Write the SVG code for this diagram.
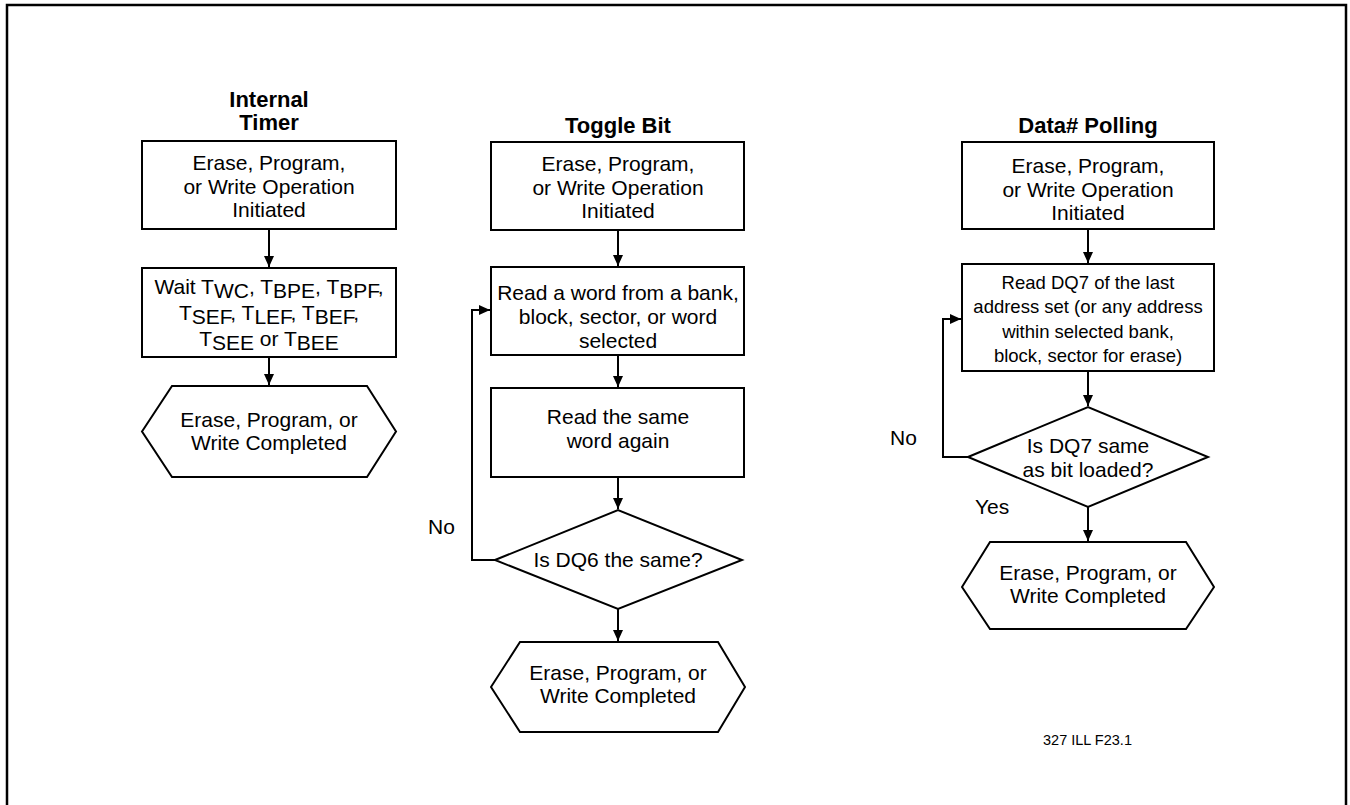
<svg xmlns="http://www.w3.org/2000/svg" width="1350" height="805" viewBox="0 0 1350 805">
<defs>
<marker id="ah" markerUnits="userSpaceOnUse" markerWidth="12" markerHeight="12" viewBox="0 0 12 12" refX="11" refY="6" orient="auto">
<path d="M0,1 L11,6 L0,11 Z" fill="#000"/>
</marker>
</defs>
<style>
text{font-family:"Liberation Sans",Arial,sans-serif;font-size:21px;fill:#000}
.t{font-weight:bold;font-size:22px}
.c{text-anchor:middle}
.s{font-size:18.5px}
.n{font-size:14.5px}
.b{fill:#fff;stroke:#000;stroke-width:2}
.e{fill:none;stroke:#000;stroke-width:2;marker-end:url(#ah)}
</style>
<rect x="7" y="5" width="1339" height="830" fill="#fff" stroke="#000" stroke-width="2.5"/>

<g id="col1">
<g id="title1"><text class="t c" x="269" y="107">Internal</text><text class="t c" x="269" y="130">Timer</text></g>
<g id="n1a"><rect class="b" x="142" y="141" width="254" height="88"/>
<text class="c" x="269" y="170">Erase, Program,</text><text class="c" x="269" y="194">or Write Operation</text><text class="c" x="269" y="217">Initiated</text></g>
<g id="n1b"><rect class="b" x="142" y="268" width="254" height="89"/>
<text class="c" x="269" y="294">Wait T<tspan dy="4">WC</tspan><tspan dy="-4">, T</tspan><tspan dy="4">BPE</tspan><tspan dy="-4">, T</tspan><tspan dy="4">BPF</tspan><tspan dy="-4">,</tspan></text>
<text class="c" x="269" y="320">T<tspan dy="4">SEF</tspan><tspan dy="-4">, T</tspan><tspan dy="4">LEF</tspan><tspan dy="-4">, T</tspan><tspan dy="4">BEF</tspan><tspan dy="-4">,</tspan></text>
<text class="c" x="269" y="346">T<tspan dy="4">SEE</tspan><tspan dy="-4"> or T</tspan><tspan dy="4">BEE</tspan></text></g>
<g id="n1c"><polygon class="b" points="142,431.5 172,386 367,386 396,431.5 367,477 172,477"/>
<text class="c" x="269" y="427">Erase, Program, or</text><text class="c" x="269" y="450">Write Completed</text></g>
</g>

<g id="col2">
<g id="title2"><text class="t c" x="618" y="133">Toggle Bit</text></g>
<g id="n2a"><rect class="b" x="491" y="142" width="253" height="88"/>
<text class="c" x="618" y="171">Erase, Program,</text><text class="c" x="618" y="195">or Write Operation</text><text class="c" x="618" y="218">Initiated</text></g>
<g id="n2b"><rect class="b" x="491" y="267" width="253" height="88"/>
<text class="c" x="618" y="300">Read a word from a bank,</text><text class="c" x="618" y="324">block, sector, or word</text><text class="c" x="618" y="348">selected</text></g>
<g id="n2c"><rect class="b" x="491" y="388" width="253" height="89"/>
<text class="c" x="618" y="424">Read the same</text><text class="c" x="618" y="448">word again</text></g>
<g id="n2d"><polygon class="b" points="495,560 618,510 742,560 618,609"/>
<text class="c" x="618" y="567">Is DQ6 the same?</text></g>
<g id="n2e"><polygon class="b" points="491,687 520,642 718,642 745,687 718,732 520,732"/>
<text class="c" x="618" y="680">Erase, Program, or</text><text class="c" x="618" y="703">Write Completed</text></g>
<text x="428" y="534">No</text>
</g>

<g id="col3">
<g id="title3"><text class="t c" x="1088" y="133">Data# Polling</text></g>
<g id="n3a"><rect class="b" x="962" y="142" width="252" height="87"/>
<text class="c" x="1088" y="173">Erase, Program,</text><text class="c" x="1088" y="197">or Write Operation</text><text class="c" x="1088" y="220">Initiated</text></g>
<g id="n3b"><rect class="b" x="962" y="264" width="252" height="107"/>
<text class="c s" x="1088" y="289">Read DQ7 of the last</text><text class="c s" x="1088" y="313">address set (or any address</text><text class="c s" x="1088" y="338">within selected bank,</text><text class="c s" x="1088" y="362">block, sector for erase)</text></g>
<g id="n3c"><polygon class="b" points="968,457 1088,407 1208,457 1088,507"/>
<text class="c" x="1088" y="453">Is DQ7 same</text><text class="c" x="1088" y="477">as bit loaded?</text></g>
<g id="n3d"><polygon class="b" points="962,587 990,542 1186,542 1214,587 1186,629 990,629"/>
<text class="c" x="1088" y="580">Erase, Program, or</text><text class="c" x="1088" y="603">Write Completed</text></g>
<text x="890" y="445">No</text>
<text x="975" y="514">Yes</text>
</g>

<g id="connectors">
<line class="e" x1="269" y1="229" x2="269" y2="267"/>
<line class="e" x1="269" y1="357" x2="269" y2="385"/>
<line class="e" x1="618" y1="230" x2="618" y2="266"/>
<line class="e" x1="618" y1="355" x2="618" y2="387"/>
<line class="e" x1="618" y1="477" x2="618" y2="509"/>
<line class="e" x1="618" y1="609" x2="618" y2="641"/>
<polyline class="e" points="495,560 472,560 472,310 490,310"/>
<line class="e" x1="1088" y1="229" x2="1088" y2="263"/>
<line class="e" x1="1088" y1="371" x2="1088" y2="406"/>
<line class="e" x1="1088" y1="507" x2="1088" y2="541"/>
<polyline class="e" points="968,457 943,457 943,319 961,319"/>
</g>

<text class="n" x="1043" y="745">327 ILL F23.1</text>
</svg>
